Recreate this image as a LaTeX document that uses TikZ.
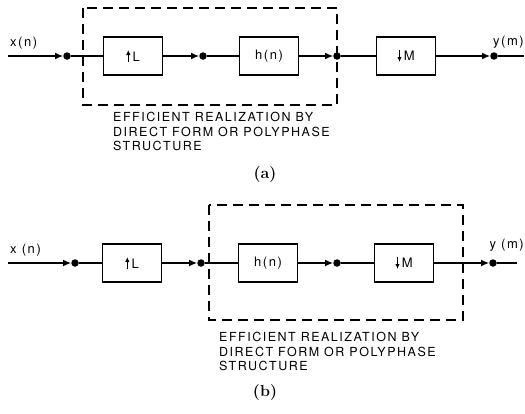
\documentclass[tikz,border=0pt]{standalone}
\usepackage{fontspec}
\newfontfamily\blockfont[LetterSpace=12]{TeX Gyre Heros}
\usetikzlibrary{arrows.meta}

\newcommand\upsamp{\tikz[baseline=0pt]\draw[line width=1.3pt,-{Latex[length=5pt,width=4.5pt]}] (0pt,-1pt) -- (0pt,11pt);\,}
\newcommand\downsamp{\tikz[baseline=0pt]\draw[line width=1.3pt,-{Latex[length=5pt,width=4.5pt]}] (0pt,10pt) -- (0pt,-2pt);\,}

\begin{document}
\begin{tikzpicture}[
  x=1pt,
  y=-1pt,
  block/.style={
    draw,
    line width=1.4pt,
    minimum width=59pt,
    minimum height=38pt,
    inner sep=0pt,
    font=\blockfont\fontsize{13}{14}\selectfont
  },
  dot/.style={
    circle,
    fill,
    inner sep=0pt,
    minimum size=7.5pt
  },
  wire/.style={
    line width=1.4pt
  },
  sig/.style={
    wire,
    -{Latex[length=8pt,width=7pt]}
  },
  region/.style={
    line width=1.3pt,
    dash pattern=on 10pt off 6pt
  },
  lbl/.style={
    inner sep=1pt,
    font=\blockfont\fontsize{13}{14}\selectfont
  },
  note/.style={
    align=left,
    anchor=north west,
    inner sep=0pt,
    font=\blockfont\fontsize{12.5}{14.5}\selectfont
  },
  caption/.style={
    font=\bfseries\fontsize{16}{18}\selectfont
  }
]

\path[use as bounding box] (0,0) rectangle (525,413);

% (a)
\coordinate (ain) at (8,56);
\node[dot] (a1) at (67,56) {};
\node[block] (aup) at (133,56) {\upsamp L};
\node[dot] (a2) at (203,56) {};
\node[block] (ah) at (269,56) {h(n)};
\node[dot] (a3) at (337,56) {};
\node[block] (adown) at (406,56) {\downsamp M};
\node[dot] (a4) at (494,56) {};
\coordinate (aout) at (524,56);

\node[lbl, anchor=south west] (axlab) at (9,50) {x(n)};
\node[lbl, anchor=south east] (aylab) at (525,50) {y(m)};

\draw[sig] (ain) -- (a1);
\draw[wire] (a1) -- (aup);
\draw[sig] (aup) -- (a2);
\draw[wire] (a2) -- (ah);
\draw[sig] (ah) -- (a3);
\draw[wire] (a3) -- (adown);
\draw[sig] (adown) -- (a4);
\draw[wire] (a4) -- (aout);

\coordinate (anw) at (83,8);
\coordinate (ase) at (337,105);
\draw[region] (anw) rectangle (ase);

\node[note] (anote) at (113,112)
  {EFFICIENT REALIZATION BY\\DIRECT FORM OR POLYPHASE\\STRUCTURE};
\node[caption] (acap) at (265,175) {(a)};

% (b)
\coordinate (bin) at (8,263);
\node[dot] (b1) at (75,263) {};
\node[block] (bup) at (132,263) {\upsamp L};
\node[dot] (b2) at (201,263) {};
\node[block] (bh) at (268,263) {h(n)};
\node[dot] (b3) at (337,263) {};
\node[block] (bdown) at (404,263) {\downsamp M};
\node[dot] (b4) at (493,263) {};
\coordinate (bout) at (517,263);

\node[lbl, anchor=south west] (bxlab) at (9,257) {x (n)};
\node[lbl, anchor=south east] (bylab) at (525,253) {y (m)};

\draw[sig] (bin) -- (b1);
\draw[wire] (b1) -- (bup);
\draw[sig] (bup) -- (b2);
\draw[wire] (b2) -- (bh);
\draw[sig] (bh) -- (b3);
\draw[wire] (b3) -- (bdown);
\draw[sig] (bdown) -- (b4);
\draw[wire] (b4) -- (bout);

\coordinate (bnw) at (209,205);
\coordinate (bse) at (463,320);
\draw[region] (bnw) rectangle (bse);

\node[note] (bnote) at (219,332)
  {EFFICIENT REALIZATION BY\\DIRECT FORM OR POLYPHASE\\STRUCTURE};
\node[caption] (bcap) at (265,393) {(b)};

\end{tikzpicture}
\end{document}
